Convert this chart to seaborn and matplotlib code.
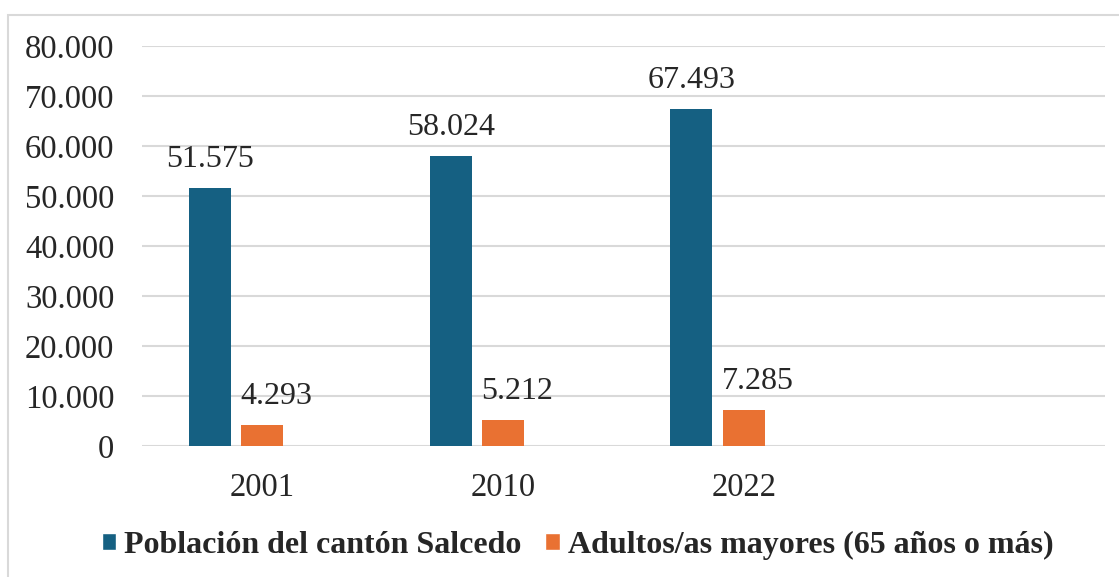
import numpy as np
import pandas as pd
import matplotlib
matplotlib.use("Agg")
from matplotlib import pyplot as plt
from matplotlib.patches import Patch, Rectangle
from matplotlib.ticker import FuncFormatter
import seaborn as sns

# data
years = ['2001', '2010', '2022']
poblacion = [51575, 58024, 67493]
adultos = [4293, 5212, 7285]
series = ['Población del cantón Salcedo', 'Adultos/as mayores (65 años o más)']

colors = ['#156082', '#E97132', '#196B24']

sns.set_style("white")
plt.rcParams['font.family'] = ['Liberation Serif', 'DejaVu Serif']

df = pd.DataFrame({
    'year': years * 2,
    'serie': [series[0]] * len(years) + [series[1]] * len(years),
    'valor': poblacion + adultos,
})

fig = plt.figure(figsize=(11.19, 5.77), dpi=100)
ax = fig.add_axes([0.127, 0.227, 0.8605, 0.693])

# third (empty) hue level and fourth (empty) category keep the original spacing
sns.barplot(data=df, x='year', y='valor', hue='serie',
            order=years + [' '], hue_order=series + ['_vacio'],
            palette=colors, saturation=1, width=0.654, gap=0.2, linewidth=0,
            errorbar=None, legend=False, ax=ax)

fmt = lambda v: f"{v:,.0f}".replace(',', '.')
for i, cont in enumerate(ax.containers):
    anns = ax.bar_label(cont, labels=[fmt(b.get_height()) if b.get_height() == b.get_height() else '' for b in cont],
                        padding=10, fontsize=23)
    if i == 1:
        # the orange labels sit a little to the right of their bars
        for a in anns:
            a.xyann = (10, a.xyann[1])

ax.set_ylim(0, 80000)
ax.set_yticks(np.arange(0, 80001, 10000))
ax.yaxis.set_major_formatter(FuncFormatter(lambda v, p: fmt(v)))
ax.set_xlim(-0.5, 3.5)
ax.grid(axis='y', color='#d9d9d9', linewidth=1.5)
ax.set_axisbelow(True)
for s in ax.spines.values():
    s.set_visible(False)
ax.tick_params(axis='both', length=0, labelsize=23.5)
ax.tick_params(axis='y', pad=20)
ax.tick_params(axis='x', pad=19)
ax.set(xlabel='', ylabel='')

handles = [Patch(facecolor=colors[0], label=series[0]),
           Patch(facecolor=colors[1], label=series[1])]
fig.legend(handles=handles, loc='center', bbox_to_anchor=(0.516, 0.055), ncol=2,
           frameon=False, handlelength=0.45, handleheight=0.45, handletextpad=0.25,
           columnspacing=0.75, prop={'weight': 'bold', 'size': 23})

# light frame around the chart area
fig.patches.append(Rectangle((8 / 1119, -0.1), 1.1, 1.1 - 15 / 577, transform=fig.transFigure,
                             fill=False, edgecolor='#d9d9d9', linewidth=1.5))

fig.savefig('out.png', dpi=100, facecolor='white')
